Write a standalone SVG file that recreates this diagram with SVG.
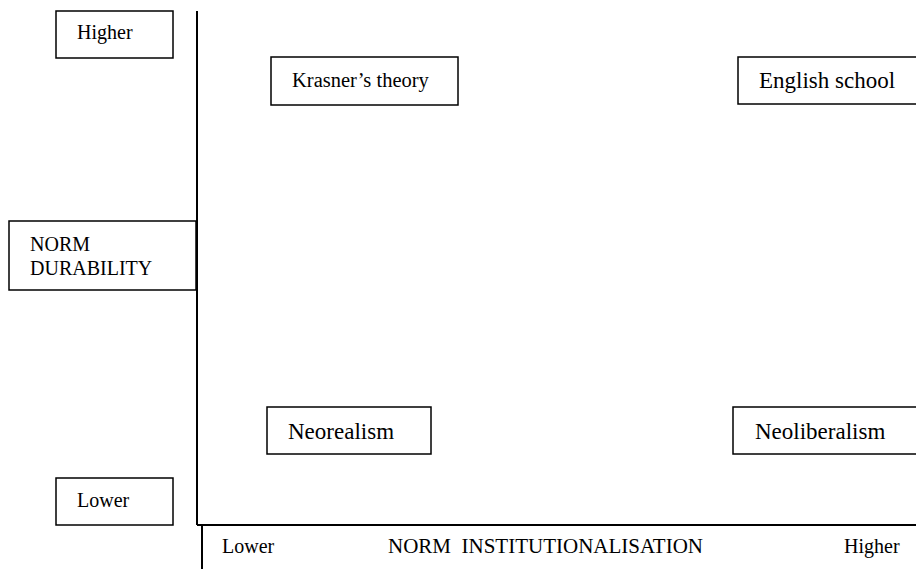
<svg xmlns="http://www.w3.org/2000/svg" width="916" height="569" viewBox="0 0 916 569">
<style>
.box{fill:#fff;stroke:#000;stroke-width:1.5}
.ax{stroke:#000;stroke-width:2;fill:none}
text{font-family:"Liberation Serif","Times New Roman",serif;fill:#000}
.s{font-size:20px}
.l{font-size:23px}
</style>
<rect width="916" height="569" fill="#fff"/>
<g id="axes">
<line class="ax" x1="197" y1="11" x2="197" y2="525"/>
<line class="ax" x1="197" y1="525" x2="916" y2="525"/>
<line class="ax" x1="202" y1="525" x2="202" y2="569"/>
</g>
<g id="higher-y"><rect class="box" x="56" y="11" width="117" height="47"/><text class="s" x="77" y="39">Higher</text></g>
<g id="lower-y"><rect class="box" x="56" y="478" width="117" height="47"/><text class="s" x="77" y="507">Lower</text></g>
<g id="norm-durability"><rect class="box" x="9" y="221" width="187" height="69"/><text class="s" x="30" y="251">NORM</text><text class="s" x="30" y="275">DURABILITY</text></g>
<g id="krasner"><rect class="box" x="271" y="57" width="187" height="48"/><text class="s" x="292" y="87" style="font-size:20.5px">Krasner’s theory</text></g>
<g id="english"><rect class="box" x="738" y="57" width="190" height="47"/><text class="l" x="759" y="88">English school</text></g>
<g id="neorealism"><rect class="box" x="267" y="407" width="164" height="47"/><text class="l" x="288" y="439">Neorealism</text></g>
<g id="neoliberalism"><rect class="box" x="733" y="407" width="195" height="47"/><text class="l" x="755" y="439">Neoliberalism</text></g>
<g id="x-labels">
<text class="s" x="222" y="553">Lower</text>
<text class="s" x="388" y="553" style="font-size:21px" xml:space="preserve">NORM  INSTITUTIONALISATION</text>
<text class="s" x="844" y="553">Higher</text>
</g>
</svg>
